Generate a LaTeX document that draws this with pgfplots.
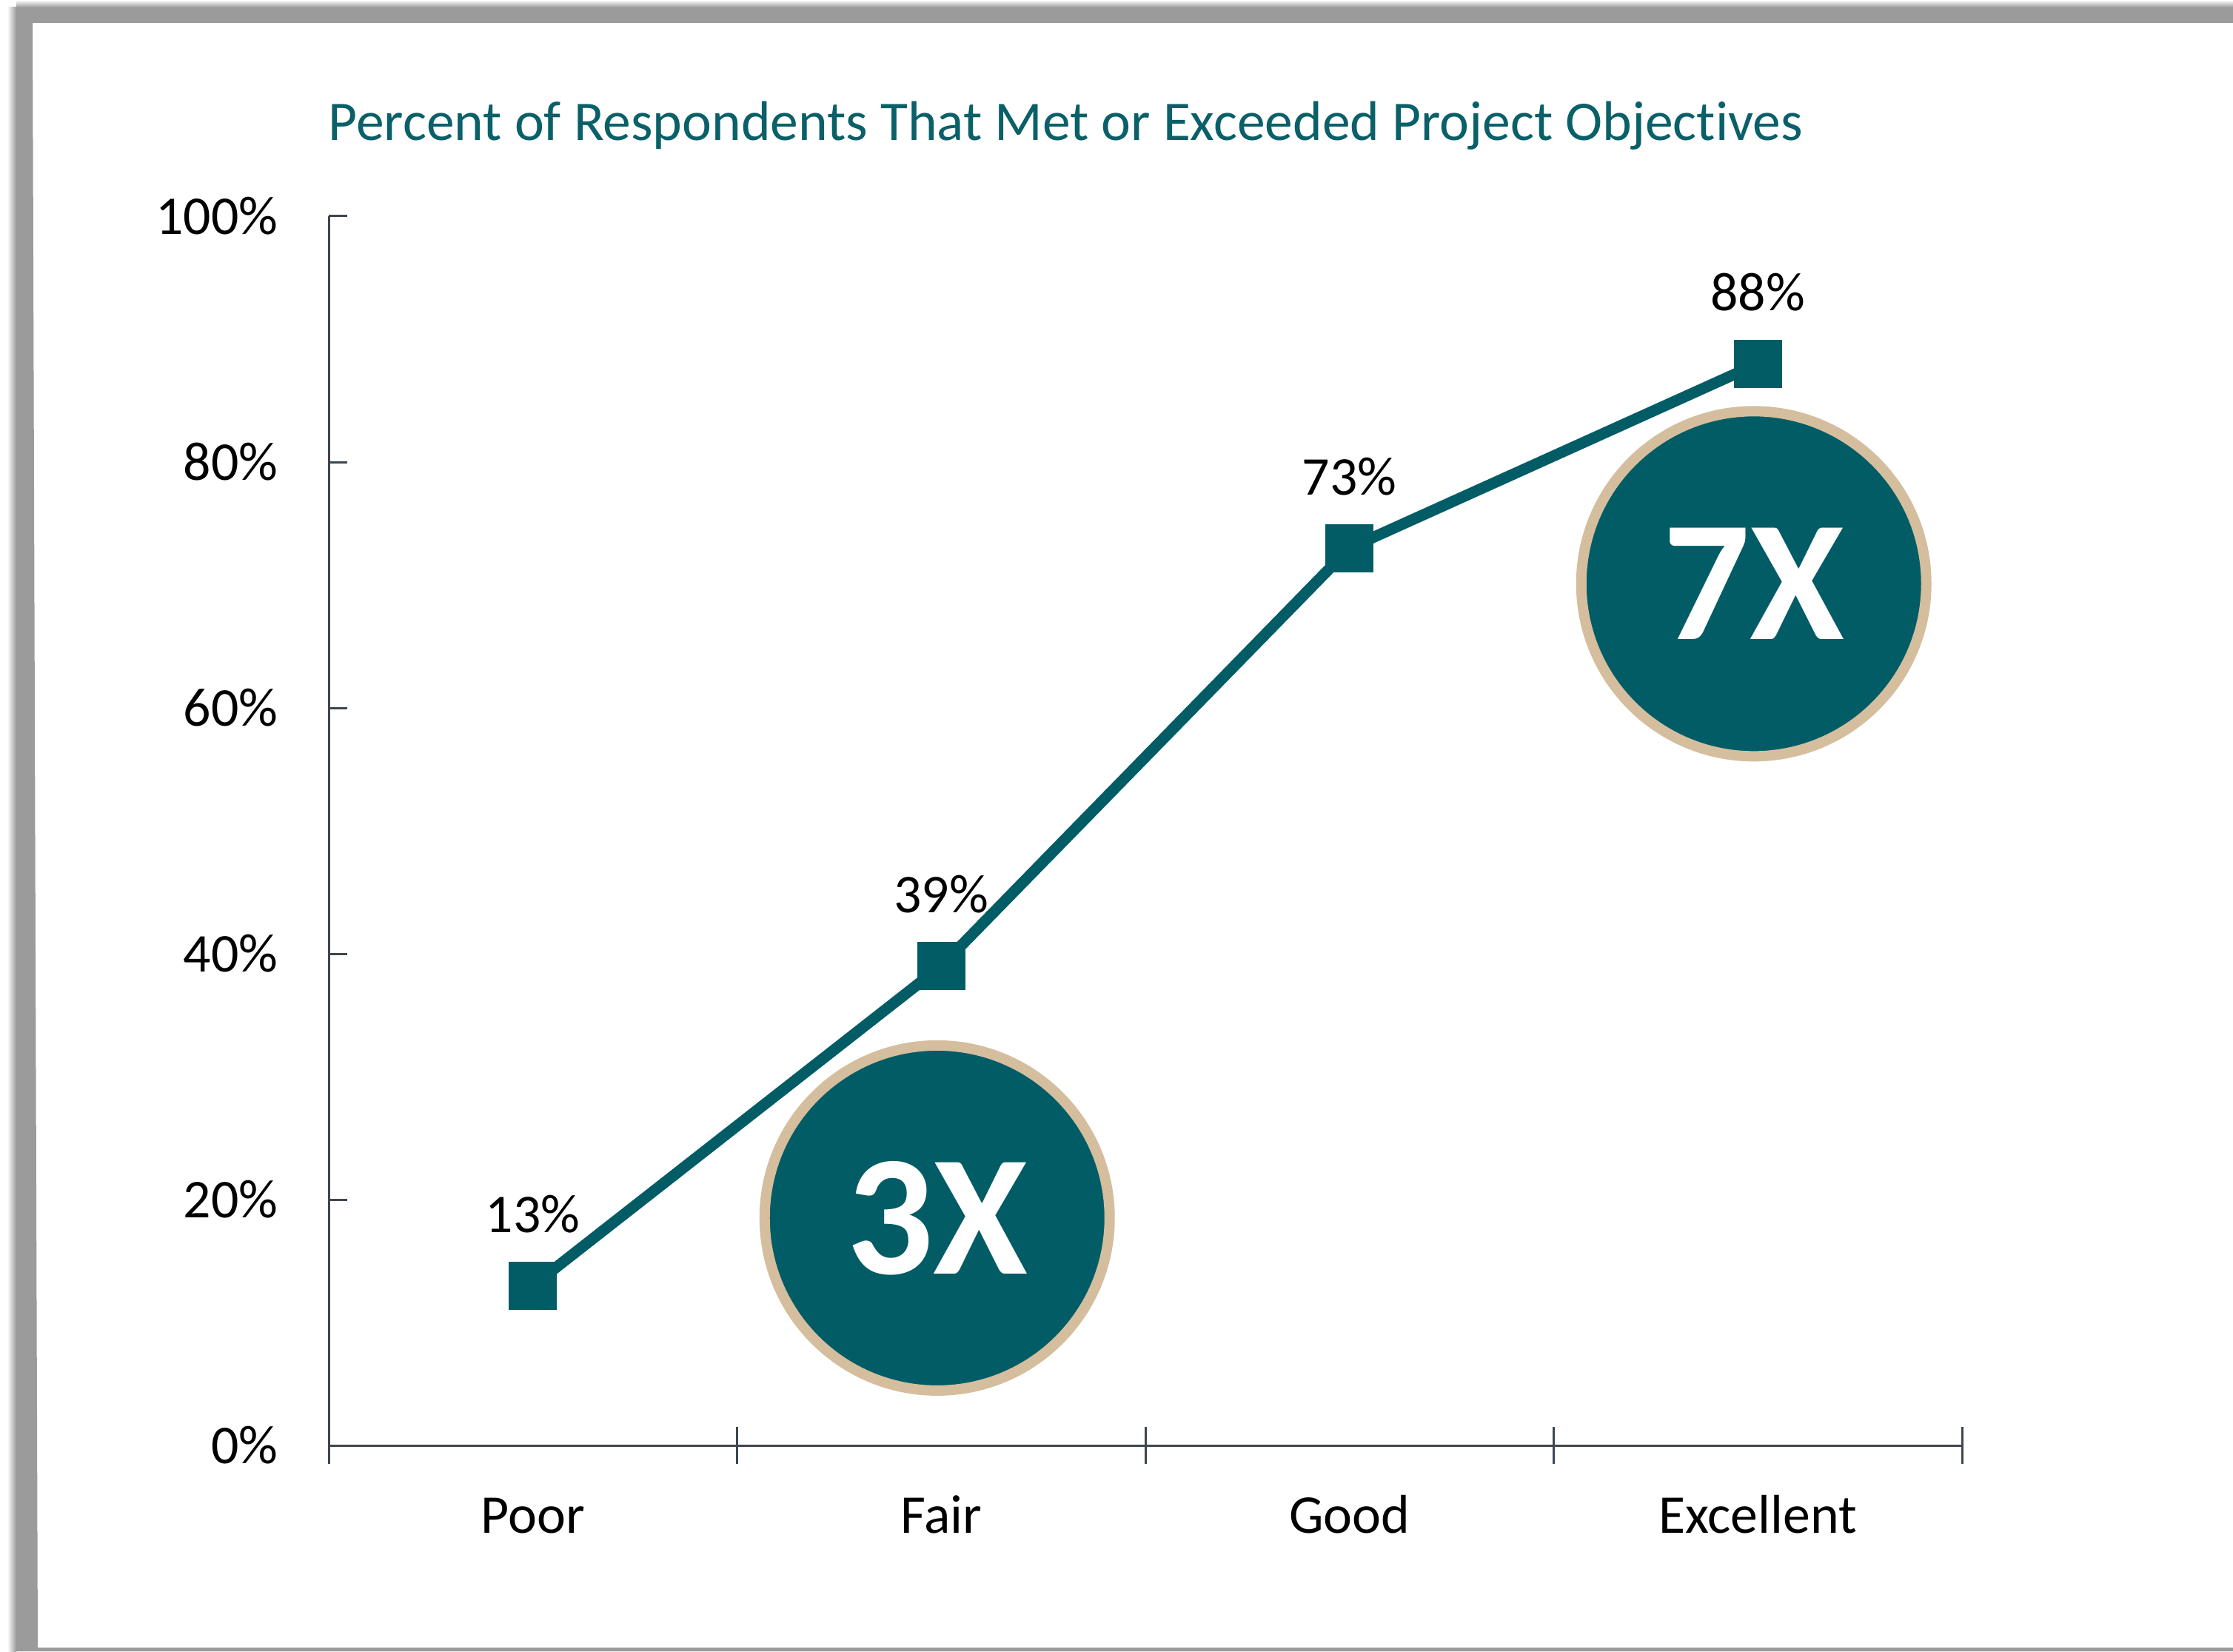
\documentclass[border=0pt]{standalone}
\usepackage{fontspec}
\setmainfont{Carlito}[Ligatures=NoCommon]
\usepackage{pgfplots}
\pgfplotsset{compat=1.18}
\definecolor{mainteal}{HTML}{025C66}
\definecolor{titleteal}{HTML}{0A6068}
\definecolor{ringtan}{HTML}{D4BE9E}
\definecolor{axisgray}{HTML}{3E4650}
\definecolor{framegray}{HTML}{9B9B9B}
\begin{document}
\begin{tikzpicture}
\useasboundingbox (0,0) rectangle (301.6mm,223mm);
% frame and shadow
\shade[left color=white, right color=framegray] (1.0mm,0) rectangle (2.2mm,222mm);
\shade[top color=white, bottom color=framegray] (2.2mm,222mm) rectangle (301.6mm,223mm);
\fill[framegray] (2.2mm,0) -- (2.2mm,222mm) -- (301.6mm,222mm) -- (301.6mm,219.9mm) -- (4.4mm,219.9mm) -- (5.1mm,0.5mm) -- (301.6mm,0.5mm) -- (301.6mm,0) -- cycle;
% title
\node[anchor=base west, inner sep=0pt, text=titleteal, font=\fontsize{21.5}{25}\selectfont] at (44.3mm,204mm) {Percent of Respondents That Met or Exceeded Project Objectives};
\begin{axis}[
  at={(44.4mm,27.8mm)}, anchor=south west,
  scale only axis, width=220.6mm, height=166mm,
  xmin=-0.5, xmax=3.5, ymin=0, ymax=100,
  axis x line*=bottom, axis y line*=left,
  axis line style={axisgray, line width=0.3mm},
  every tick/.style={axisgray, line width=0.3mm},
  xtick={0,1,2,3}, xticklabels={Poor,Fair,Good,Excellent},
  major x tick style={draw=none},
  minor xtick={-0.5,0.5,1.5,2.5,3.5},
  xtick align=center, minor tick length=5mm,
  ytick={0,20,40,60,80,100}, ytick align=inside, major tick length=2.5mm,
  yticklabel={\pgfmathprintnumber[assume math mode=true]{\tick}\%},
  ticklabel style={font=\fontsize{21}{25}\selectfont, text=black},
  yticklabel style={inner sep=0pt, anchor=east, xshift=-6.8mm},
  xticklabel style={inner sep=0pt, anchor=base, yshift=-10.55mm},
  clip=false,
]
\addplot[mainteal, line width=1.5mm, mark=square*, mark size=3.2mm,
  mark options={line width=0pt, fill=mainteal, draw=mainteal},
  nodes near coords={\pgfmathprintnumber[assume math mode=true]{\pgfplotspointmeta}\%},
  every node near coord/.append style={font=\fontsize{21}{25}\selectfont, text=black, inner sep=0pt, yshift=7.1mm}
] coordinates {(0,13) (1,39) (2,73) (3,88)};
\node[circle, fill=mainteal, draw=ringtan, line width=1.4mm, minimum size=46.6mm, inner sep=0pt] at (axis cs:0.99,18.5) {};
\node[text=white, inner sep=0pt, font=\fontsize{66}{70}\selectfont\bfseries] at (axis cs:0.99,18.5) {3X};
\node[circle, fill=mainteal, draw=ringtan, line width=1.4mm, minimum size=46.6mm, inner sep=0pt] at (axis cs:2.99,70.1) {};
\node[text=white, inner sep=0pt, font=\fontsize{66}{70}\selectfont\bfseries] at (axis cs:2.99,70.1) {7X};
\end{axis}
\end{tikzpicture}
\end{document}
